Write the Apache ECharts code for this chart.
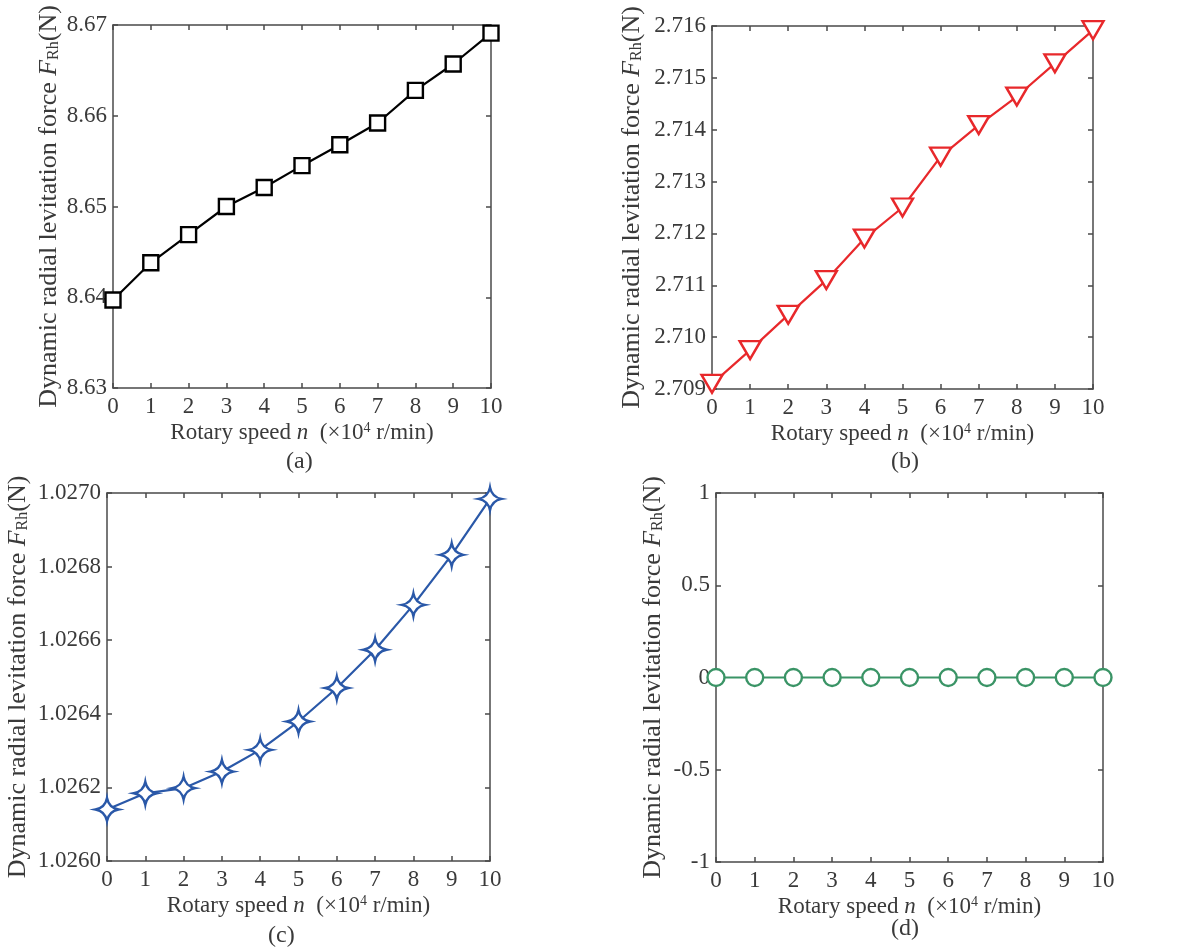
<!DOCTYPE html>
<html>
<head>
<meta charset="utf-8">
<script src="https://cdn.jsdelivr.net/npm/echarts@6/dist/echarts.min.js"></script>
<style>
html,body{margin:0;padding:0;background:#fff;}
#chart{width:1196px;height:948px;}
</style>
</head>
<body>
<div id="chart"></div>
<script>
// ---- data ----
var speeds = [0, 1, 2, 3, 4, 5, 6, 7, 8, 9, 10];
var forceA = [8.6397, 8.6438, 8.6469, 8.6500, 8.6521, 8.6545, 8.6568, 8.6592, 8.6628, 8.6657, 8.6691];
var forceB = [2.70910, 2.70975, 2.71043, 2.71110, 2.71190, 2.71250, 2.71348, 2.71409, 2.71464, 2.71528, 2.71592];
var forceC = [1.026140, 1.026184, 1.026198, 1.026243, 1.026302, 1.026379, 1.026470, 1.026574, 1.026696, 1.026832, 1.026984];
var forceD = [0, 0, 0, 0, 0, 0, 0, 0, 0, 0, 0];
var captions = ['(a)', '(b)', '(c)', '(d)'];
var xTitle = 'Rotary speed {it|n}  (×10{sup|4} r/min)';
var yTitle = 'Dynamic radial levitation force {it|F}{sub|Rh}(N)';

// ---- styling / layout ----
var FONT = 'Liberation Serif';
var AXIS_COLOR = '#4a4a4a';
var TEXT_COLOR = '#3a3a3a';

var panels = [
  {grid:{left:113, top:25, width:378, height:363}, min:8.63, max:8.67, interval:0.01, dec:2, data:forceA,
   color:'#000000', symbol:'rect', symbolSize:15, symbolRotate:0, nameGap:51, cap:[300,463]},
  {grid:{left:712, top:26, width:381, height:363}, min:2.709, max:2.716, interval:0.001, dec:3, data:forceB,
   color:'#e8282b', symbol:'triangle', symbolSize:[21,18], symbolRotate:180, nameGap:67, cap:[905,463]},
  {grid:{left:107, top:493, width:383, height:368}, min:1.026, max:1.027, interval:0.0002, dec:4, data:forceC,
   color:'#2a58a8', symbol:'path://M10,0 Q11.6,8.4 20,10 Q11.6,11.6 10,20 Q8.4,11.6 0,10 Q8.4,8.4 10,0 Z', symbolSize:23, symbolRotate:0, nameGap:76, cap:[282,937]},
  {grid:{left:716, top:493, width:387, height:369}, min:-1, max:1, interval:0.5, dec:-1, data:forceD,
   color:'#3a9466', symbol:'circle', symbolSize:17, symbolRotate:0, nameGap:50, cap:[905,930]}
];

var richX = {
  it:{fontFamily:FONT, fontStyle:'italic', fontSize:23, color:TEXT_COLOR},
  sup:{fontFamily:FONT, fontSize:14, color:TEXT_COLOR, verticalAlign:'top'}
};
var richY = {
  it:{fontFamily:FONT, fontStyle:'italic', fontSize:26, color:TEXT_COLOR},
  sub:{fontFamily:FONT, fontSize:16, color:TEXT_COLOR, verticalAlign:'bottom'}
};

var option = {
  backgroundColor:'#ffffff',
  animation:false,
  grid:[], xAxis:[], yAxis:[], series:[], graphic:[]
};

panels.forEach(function(p, i){
  option.grid.push({left:p.grid.left, top:p.grid.top, width:p.grid.width, height:p.grid.height, containLabel:false});
  var lineStyle = {color:AXIS_COLOR, width:1.5};
  option.xAxis.push({
    type:'value', gridIndex:i, min:0, max:10, interval:1, position:'bottom',
    axisLine:{show:true, onZero:false, lineStyle:lineStyle},
    axisTick:{show:true, inside:true, length:5, lineStyle:lineStyle},
    splitLine:{show:false},
    axisLabel:{show:true, margin:7, fontFamily:FONT, fontSize:23, color:TEXT_COLOR},
    name:xTitle, nameLocation:'middle', nameGap:33,
    nameTextStyle:{fontFamily:FONT, fontSize:23, color:TEXT_COLOR, rich:richX}
  });
  option.xAxis.push({
    type:'value', gridIndex:i, min:0, max:10, interval:1, position:'top',
    axisLine:{show:true, onZero:false, lineStyle:lineStyle},
    axisTick:{show:true, inside:true, length:5, lineStyle:lineStyle},
    splitLine:{show:false}, axisLabel:{show:false}
  });
  var dec = p.dec;
  option.yAxis.push({
    type:'value', gridIndex:i, min:p.min, max:p.max, interval:p.interval, position:'left',
    axisLine:{show:true, onZero:false, lineStyle:lineStyle},
    axisTick:{show:true, inside:true, length:5, lineStyle:lineStyle},
    splitLine:{show:false},
    axisLabel:{show:true, margin:6, fontFamily:FONT, fontSize:23, color:TEXT_COLOR,
      formatter:function(v){ if(dec<0){ var r=Math.round(v*100)/100; return r===0?'0':String(r);} return v.toFixed(dec);} },
    name:yTitle, nameLocation:'middle', nameGap:p.nameGap, nameRotate:90,
    nameTextStyle:{fontFamily:FONT, fontSize:26, color:TEXT_COLOR, rich:richY}
  });
  option.yAxis.push({
    type:'value', gridIndex:i, min:p.min, max:p.max, interval:p.interval, position:'right',
    axisLine:{show:true, onZero:false, lineStyle:lineStyle},
    axisTick:{show:true, inside:true, length:5, lineStyle:lineStyle},
    splitLine:{show:false}, axisLabel:{show:false}
  });
  option.series.push({
    type:'line', xAxisIndex:i*2, yAxisIndex:i*2,
    data:speeds.map(function(x, k){ return [x, p.data[k]]; }),
    symbol:p.symbol, symbolSize:p.symbolSize, symbolRotate:p.symbolRotate, showAllSymbol:true,
    clip:false,
    lineStyle:{color:p.color, width:2.2},
    itemStyle:{color:'#ffffff', borderColor:p.color, borderWidth:2.4},
    z:5
  });
  option.graphic.push({
    type:'text', left:p.cap[0]-14, top:p.cap[1]-13,
    style:{text:captions[i], fontFamily:FONT, fontSize:24, fill:TEXT_COLOR}
  });
});

var chart = echarts.init(document.getElementById('chart'), null, {renderer:'canvas'});
chart.setOption(option);
</script>
</body>
</html>
